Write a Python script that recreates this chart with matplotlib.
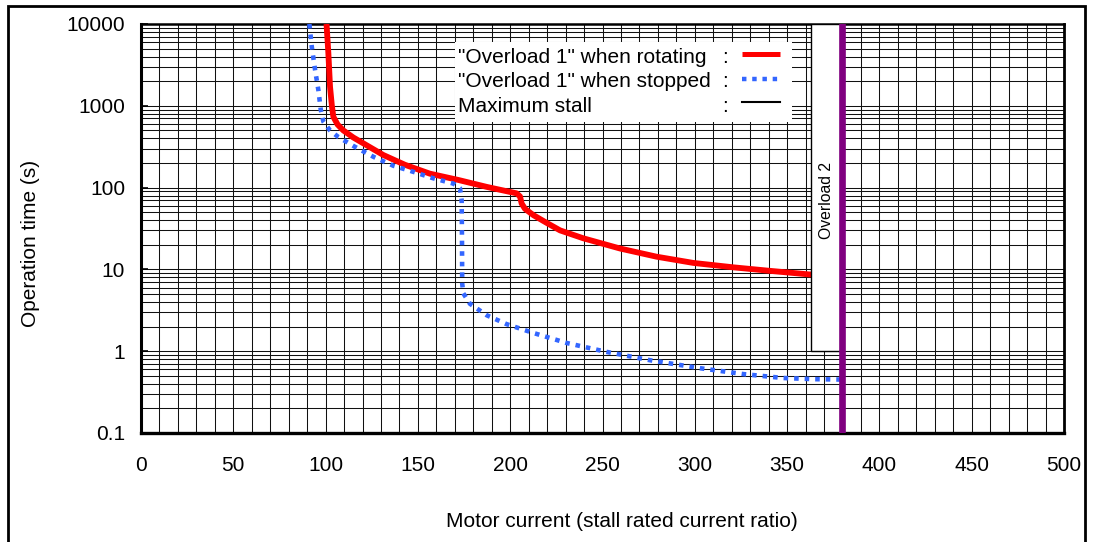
import matplotlib
matplotlib.use("Agg")
import matplotlib.pyplot as plt
from matplotlib.ticker import FixedLocator, FixedFormatter, MultipleLocator, LogLocator, NullFormatter
from matplotlib.patches import Rectangle
from matplotlib.lines import Line2D

plt.rcParams['font.family'] = ['Liberation Sans', 'DejaVu Sans']

# "Overload 1" curve while the motor is rotating
rotating_current = [100.5, 101.5, 102.4, 103.4, 104.2, 106.5, 109.6, 115, 120.5, 131.3, 143, 156.5,
                    171.9, 187.3, 203.5, 205.3, 206.2, 208, 212.6, 219.8, 227, 239.6, 259.5,
                    279.3, 299.2, 320.9, 340.7, 361.5, 380]
rotating_time = [10000, 4400, 1710, 1000, 735, 590, 500, 410, 347, 250, 190, 148,
                 124, 102, 85, 78, 64, 55, 46, 37, 30, 24, 18,
                 14.3, 12, 10.6, 9.6, 8.7, 8.2]

# "Overload 1" curve while the motor is stopped
stopped_current = [91.2, 92.5, 94.3, 96.1, 97.4, 98.8, 102.4, 106.9, 116, 125.9, 136.7, 147.5,
                   158.3, 169.2, 172.8, 173.7, 173.9, 174.0, 174.6, 178.2, 187.3, 198.1, 212.6,
                   230.6, 252.3, 275.7, 302.8, 326.3, 348, 365, 380]
stopped_time = [10000, 5300, 2750, 1550, 890, 640, 500, 415, 314, 238, 185, 156,
                130, 112, 98, 70, 20, 6.7, 5.1, 3.8, 2.75, 2.14, 1.67,
                1.26, 0.98, 0.776, 0.62, 0.525, 0.47, 0.455, 0.45]

# Maximum stall current and the "Overload 2" band
max_stall_current = 380
overload2_start = 363
overload2_min_time = 1
overload2_max_time = 10000

x_ticks = [0, 50, 100, 150, 200, 250, 300, 350, 400, 450, 500]
y_ticks = [0.1, 1, 10, 100, 1000, 10000]
y_tick_labels = ['0.1', '1', '10', '100', '1000', '10000']

legend_labels = ['"Overload 1" when rotating', '"Overload 1" when stopped', 'Maximum stall']

W, H = 1093, 542
fig = plt.figure(figsize=(W / 100, H / 100), dpi=100)
fig.patch.set_facecolor('white')

AX_L, AX_R, AX_T, AX_B = 141, 1064, 24, 433
ax = fig.add_axes([AX_L / W, 1 - AX_B / H, (AX_R - AX_L) / W, (AX_B - AX_T) / H])


def afx(px):
    return (px - AX_L) / (AX_R - AX_L)


def afy(py):
    return (AX_B - py) / (AX_B - AX_T)


# outer frame of the figure
fig.patches.append(Rectangle((8 / W, -0.1), (1085 - 8) / W, 1 - 6 / H + 0.1,
                             transform=fig.transFigure, fill=False, lw=2.0,
                             ec='black', zorder=0))

ax.set_xlim(0, 500)
ax.set_yscale('log')
ax.set_ylim(0.1, 10000)

ax.xaxis.set_major_locator(FixedLocator(x_ticks))
ax.xaxis.set_major_formatter(FixedFormatter([str(v) for v in x_ticks]))
ax.xaxis.set_minor_locator(MultipleLocator(10))
ax.yaxis.set_major_locator(FixedLocator(y_ticks))
ax.yaxis.set_major_formatter(FixedFormatter(y_tick_labels))
ax.yaxis.set_minor_locator(LogLocator(base=10, subs=[2, 3, 4, 5, 6, 7, 8, 9], numticks=20))
ax.yaxis.set_minor_formatter(NullFormatter())

ax.tick_params(axis='x', which='both', length=0, labelsize=15, pad=16.5)
ax.tick_params(axis='y', which='major', direction='in', length=5, width=1.2,
               labelsize=15, pad=11.5)
ax.tick_params(axis='y', which='minor', length=0)

ax.set_axisbelow(True)
ax.grid(True, which='both', color='#111111', lw=0.75)

for side, lw in (('left', 2.2), ('bottom', 2.4), ('top', 1.8), ('right', 2.0)):
    ax.spines[side].set_linewidth(lw)
    ax.spines[side].set_color('black')

ax.plot(rotating_current, rotating_time, color='#ff0000', lw=4.2,
        solid_capstyle='butt', solid_joinstyle='round', zorder=3)
ax.plot(stopped_current, stopped_time, color='#3366ff', lw=3.3,
        linestyle=(0, (1, 1.3)), dash_capstyle='butt', zorder=3)

ax.add_patch(Rectangle((overload2_start, overload2_min_time),
                       max_stall_current - overload2_start,
                       overload2_max_time - overload2_min_time,
                       fc='white', ec='black', lw=1.0, zorder=4))
ax.text((overload2_start + max_stall_current) / 2, 70.5, 'Overload 2', rotation=90,
        ha='center', va='center', fontsize=11.3, zorder=5)
ax.axvline(max_stall_current, color='#800080', lw=4.8, zorder=6)

# legend panel
ax.add_patch(Rectangle((afx(455), afy(122)), (792 - 455) / (AX_R - AX_L),
                       (122 - 42) / (AX_B - AX_T), transform=ax.transAxes,
                       fc='white', ec='none', zorder=7))
baselines = [63.3, 86.7, 111.7]
sample_y = [54.3, 79.3, 101.7]
styles = [dict(color='#ff0000', lw=3.6, solid_capstyle='butt'),
          dict(color='#3366ff', lw=3.2, linestyle=(0, (1, 1.3)), dash_capstyle='butt'),
          dict(color='black', lw=1.5)]
for label, by, sy, st in zip(legend_labels, baselines, sample_y, styles):
    ax.text(afx(458), afy(by), label, transform=ax.transAxes, fontsize=15,
            va='baseline', ha='left', zorder=8)
    ax.text(afx(722), afy(by), ':', transform=ax.transAxes, fontsize=15,
            va='baseline', ha='left', zorder=8)
    ax.add_line(Line2D([afx(742), afx(780)], [afy(sy), afy(sy)],
                       transform=ax.transAxes, zorder=8, **st))

fig.text(621.5 / W, 1 - 526.7 / H, 'Motor current (stall rated current ratio)',
         fontsize=15, ha='center', va='baseline')
fig.text(35.7 / W, 1 - 243.5 / H, 'Operation time (s)', fontsize=15, rotation=90,
         ha='center', va='baseline', rotation_mode='anchor')

fig.savefig('out.png', dpi=100, facecolor='white')
